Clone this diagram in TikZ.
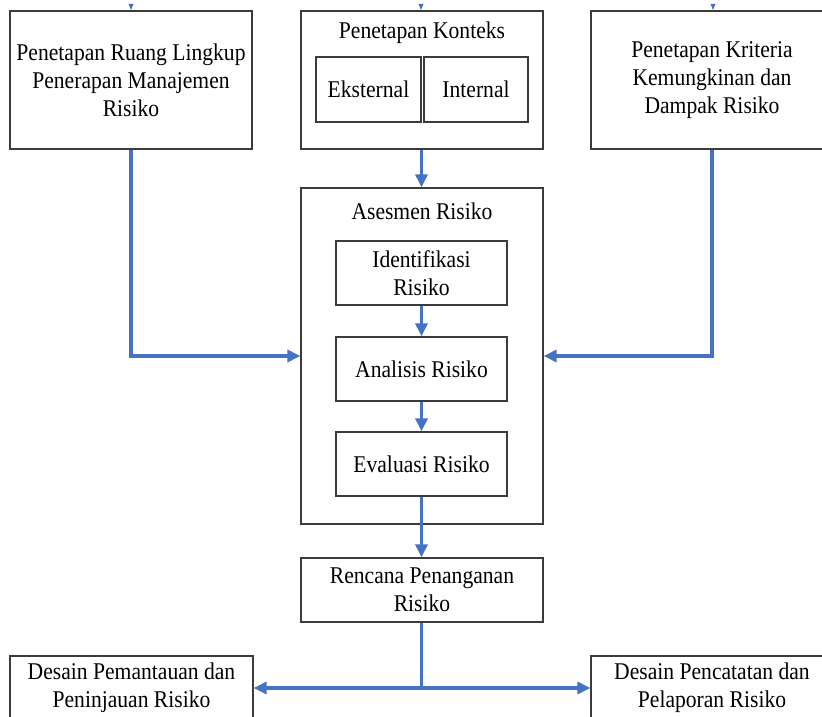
\documentclass[tikz,border=0pt]{standalone}
\usepackage{fontspec}
\setmainfont{Liberation Serif}[FakeStretch=0.9]
\usetikzlibrary{arrows.meta}
\definecolor{bluec}{HTML}{4472C4}
\definecolor{boxc}{HTML}{3C3C3C}
\tikzset{
  box/.style={draw=boxc, line width=1.3pt, fill=white, inner sep=0pt, align=center,
    font=\fontsize{24}{28}\selectfont},
  lbl/.style={inner sep=0pt, align=center, font=\fontsize{24}{28}\selectfont},
  conn/.style={draw=bluec, line width=3.2pt},
  arr/.style={conn, -{Triangle[width=12pt,length=13pt]}},
}
\begin{document}
\begin{tikzpicture}[x=1pt,y=-1pt]
\useasboundingbox (0,0) rectangle (822,717);
\clip (0,0) rectangle (822,717);
% top boxes
\node[box, minimum width=242pt, minimum height=138pt] (L1) at (131,80)
  {Penetapan Ruang Lingkup\\Penerapan Manajemen\\Risiko};
\node[box, minimum width=242pt, minimum height=138pt] (K) at (422,80) {};
\node[lbl] (Kt) at (422,33) {Penetapan Konteks};
\node[box, minimum width=105pt, minimum height=65pt] (Eks) at (368.5,89.5) {Eksternal};
\node[box, minimum width=104pt, minimum height=65pt] (Int) at (476,89.5) {Internal};
\node[box, minimum width=242pt, minimum height=138pt] (R1) at (712,80)
  {Penetapan Kriteria\\Kemungkinan dan\\Dampak Risiko};
% assessment
\node[box, minimum width=242pt, minimum height=336pt] (A) at (422,356) {};
\node[lbl] (At) at (422,211) {Asesmen Risiko};
\node[box, minimum width=171pt, minimum height=64pt] (Id) at (421.5,273) {Identifikasi\\Risiko};
\node[box, minimum width=171pt, minimum height=64pt] (An) at (421.5,369) {Analisis Risiko};
\node[box, minimum width=171pt, minimum height=64pt] (Ev) at (421.5,464) {Evaluasi Risiko};
% treatment
\node[box, minimum width=242pt, minimum height=64pt] (Rn) at (422,590) {Rencana Penanganan\\Risiko};
\node[box, minimum width=243pt, minimum height=64pt] (DL) at (131.5,688) {Desain Pemantauan dan\\Peninjauan Risiko};
\node[box, minimum width=242pt, minimum height=64pt] (DR) at (712,688) {Desain Pencatatan dan\\Pelaporan Risiko};
% connectors
\draw[arr] (L1.south) |- (A.west);
\draw[arr] (R1.south) |- (A.east);
\draw[arr] (Id.south |- K.south) -- (Id.north |- A.north);
\draw[arr] (Id.south) -- (An.north);
\draw[arr] (An.south) -- (Ev.north);
\draw[arr] (Ev.south) -- (Ev.south |- Rn.north);
\coordinate (J) at (Ev.south |- DL.east);
\draw[conn] (Ev.south |- Rn.south) -- (J);
\draw[arr] (J) -- (DL.east);
\draw[arr] (J) -- (DR.west);
% cut-off arrow tips at the top
\fill[bluec] (128.5,4) -- (133.5,4) -- (131,10) -- cycle;
\fill[bluec] (418.5,4) -- (423.5,4) -- (421,10) -- cycle;
\fill[bluec] (710.5,4) -- (715.5,4) -- (713,10) -- cycle;
\end{tikzpicture}
\end{document}
